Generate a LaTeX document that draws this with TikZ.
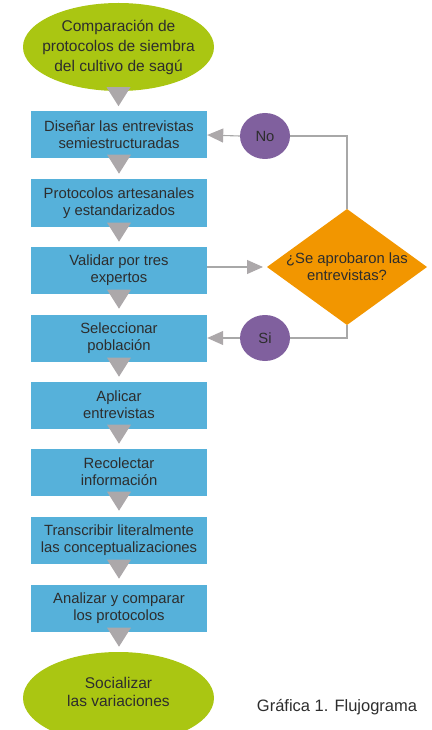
\documentclass[tikz,border=0pt]{standalone}
\usepackage{fontspec}
\setmainfont{Liberation Sans}
\usetikzlibrary{shapes.geometric,arrows.meta,calc}
\definecolor{lime}{RGB}{170,198,18}
\definecolor{skyb}{RGB}{86,177,218}
\definecolor{orng}{RGB}{242,150,0}
\definecolor{purp}{RGB}{128,96,158}
\definecolor{tgrey}{RGB}{172,168,170}
\definecolor{lgrey}{RGB}{168,168,168}
\definecolor{txt}{RGB}{45,45,45}
\begin{document}
\begin{tikzpicture}[x=1pt,y=1pt,
  every node/.style={text=txt},
  term/.style={ellipse,fill=lime,minimum width=191pt,minimum height=88pt,inner sep=0pt},
  stepbox/.style={rectangle,fill=skyb,minimum width=176pt,minimum height=47pt,inner sep=0pt,align=center,font=\fontsize{14.8}{17}\selectfont},
  answer/.style={ellipse,fill=purp,minimum width=50pt,minimum height=46pt,inner sep=0pt,font=\fontsize{14.8}{17}\selectfont},
  tri/.style={fill=tgrey},
  link/.style={draw=lgrey,line width=1.1pt},
  arr/.style={link,-{Triangle[length=16pt,width=14pt,fill=tgrey,color=tgrey]}}
]
\useasboundingbox (0,0) rectangle (431,-730);
\clip (0,0) rectangle (431,-730);
\node[term] (start) at (118.5,-47) {};
\node[align=center,inner sep=0pt,font=\fontsize{15.5}{20}\selectfont] (starttxt) at (start.center) {Comparación de\\protocolos de siembra\\del cultivo de sagú};
\node[stepbox] (b1) at (119,-135) {Diseñar las entrevistas\\semiestructuradas};
\node[stepbox] (b2) at (119,-203) {Protocolos artesanales\\y estandarizados};
\node[stepbox] (b3) at (119,-270) {Validar por tres\\expertos};
\node[stepbox] (b4) at (119,-338) {Seleccionar\\población};
\node[stepbox] (b5) at (119,-405) {Aplicar\\entrevistas};
\node[stepbox] (b6) at (119,-472) {Recolectar\\información};
\node[stepbox] (b7) at (119,-540) {Transcribir literalmente\\las conceptualizaciones};
\node[stepbox] (b8) at (119,-608) {Analizar y comparar\\los protocolos};
\node[term,minimum height=92pt] (fin) at (118.5,-698) {};
\node[align=center,inner sep=0pt,font=\fontsize{15.5}{17.5}\selectfont] (fintxt) at ($(fin.center)+(0,6)$) {Socializar\\las variaciones};
% triangles
\foreach \n in {start,b1,b2,b3,b4,b5,b6,b7,b8}{
  \fill[tri] ($(\n.south)+(-12,4)$) -- ($(\n.south)+(12,4)$) -- ($(\n.south)+(0,-15)$) -- cycle;
}
% decision
\coordinate (dc) at (347,-267);
\coordinate (dT) at ($(dc)+(0,58)$);
\coordinate (dB) at ($(dc)+(0,-58)$);
\coordinate (dL) at ($(dc)+(-80,0)$);
\coordinate (dR) at ($(dc)+(80,0)$);
\fill[orng] (dT) -- (dR) -- (dB) -- (dL) -- cycle;
\node[align=center,font=\fontsize{14.8}{17}\selectfont] (dtxt) at (dc) {¿Se aprobaron las\\entrevistas?};
\node[answer] (no) at (265,-136) {No};
\node[answer] (si) at (265,-338) {Si};
\draw[link] (dT) |- (no.east);
\draw[arr] (no.west) -- (b1.east);
\draw[arr,shorten >=4pt] (b3.east |- dL) -- (dL);
\draw[link] (dB) |- (si.east);
\draw[arr] (si.west) -- (b4.east);
\node[font=\fontsize{16.5}{19}\selectfont] (cap) at (337,-707) {Gráfica 1. Flujograma};
\end{tikzpicture}
\end{document}
